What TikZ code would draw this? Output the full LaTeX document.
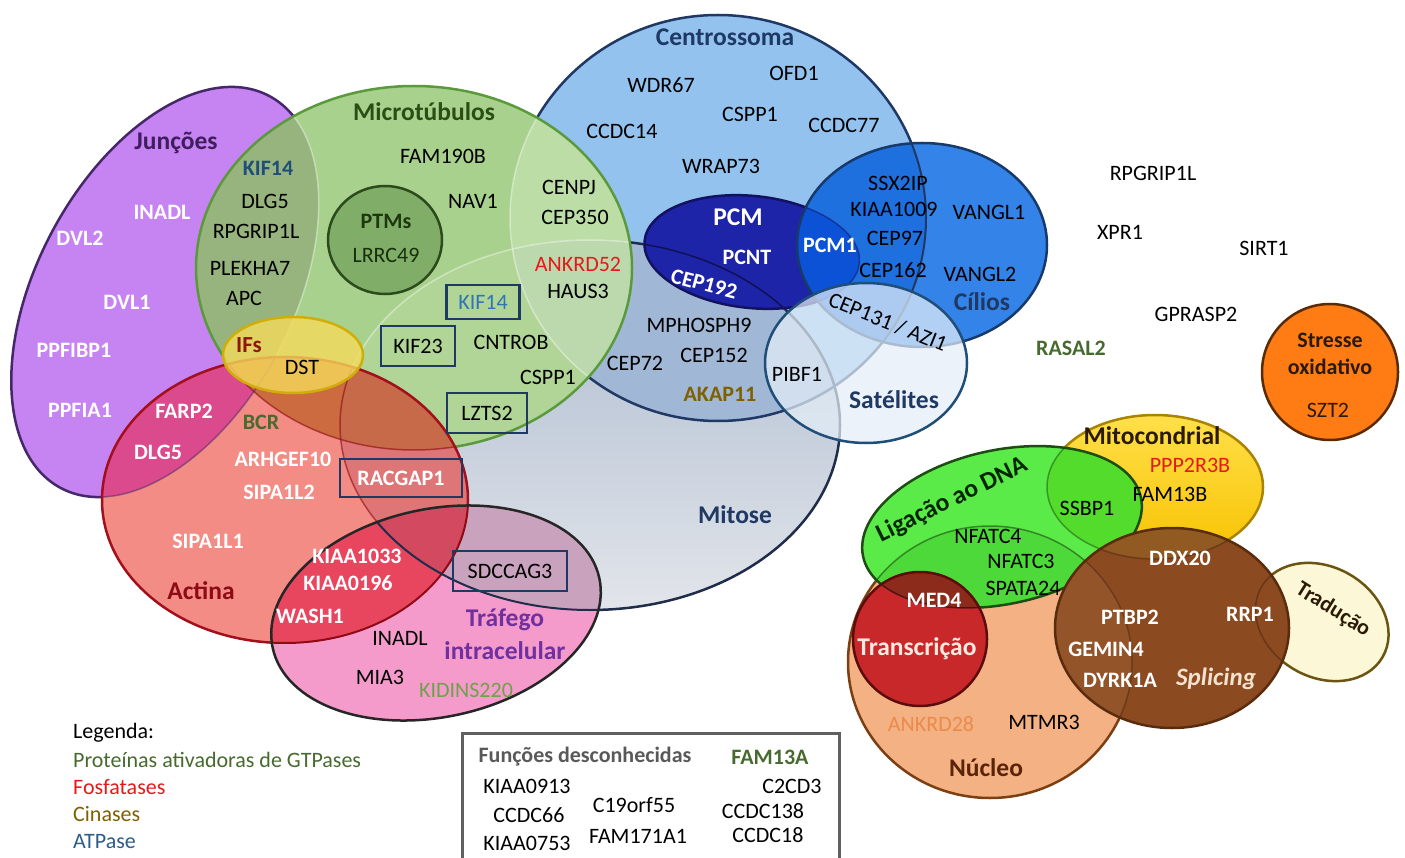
\documentclass[tikz,border=0pt]{standalone}
\usepackage{fontspec}
\setmainfont{Carlito}
\definecolor{mitT}{HTML}{A9B8CE}\definecolor{mitB}{HTML}{E2E5EA}\definecolor{mitE}{HTML}{1F2D4A}
\definecolor{cen}{HTML}{93C2EE}\definecolor{cenmit}{HTML}{A0B7D5}\definecolor{cenE}{HTML}{1F3864}
\definecolor{jun}{HTML}{C683F2}\definecolor{junE}{HTML}{45286A}
\definecolor{mic}{HTML}{A9D18E}\definecolor{micjun}{HTML}{97B47E}\definecolor{miccen}{HTML}{BCDDA6}
\definecolor{micmit}{HTML}{B0D597}\definecolor{micmitcen}{HTML}{BCD9AE}\definecolor{micE}{HTML}{5B9A3C}
\definecolor{act}{HTML}{F28C85}\definecolor{actjun}{HTML}{DA4A8C}\definecolor{actmit}{HTML}{DE7677}
\definecolor{actmic}{HTML}{CC6B3F}\definecolor{actmicmit}{HTML}{C66A4A}\definecolor{actE}{HTML}{A3101C}
\definecolor{tra}{HTML}{F59BCB}\definecolor{traact}{HTML}{E8455E}\definecolor{tramit}{HTML}{C9A2BE}
\definecolor{traactmit}{HTML}{D34A60}\definecolor{traE}{HTML}{262626}
\definecolor{ifs}{HTML}{F5DA5A}\definecolor{ifsE}{HTML}{CFAE0A}
\definecolor{ptm}{HTML}{80AE68}\definecolor{ptmE}{HTML}{2D4A1C}
\definecolor{pcm}{HTML}{1E24A8}\definecolor{pcmE}{HTML}{12125E}
\definecolor{cil}{HTML}{3383E8}\definecolor{cilcen}{HTML}{1F70DF}\definecolor{cilpcm}{HTML}{0B52D6}\definecolor{cilE}{HTML}{173A6A}
\definecolor{sat}{HTML}{E4EEF8}\definecolor{satE}{HTML}{1F4E79}
\definecolor{nuc}{HTML}{F4B183}\definecolor{nucE}{HTML}{7B3F12}
\definecolor{mtoT}{HTML}{FFE04A}\definecolor{mtoB}{HTML}{F7C200}\definecolor{mtoE}{HTML}{A88400}
\definecolor{lig}{HTML}{5BEB48}\definecolor{lignuc}{HTML}{4ED93A}\definecolor{ligmto}{HTML}{53DC2B}\definecolor{ligE}{HTML}{1D4D12}
\definecolor{trn}{HTML}{C9282B}\definecolor{trnlig}{HTML}{8C2A1C}\definecolor{trnE}{HTML}{5C0C0C}
\definecolor{trd}{HTML}{FCF7D6}\definecolor{trdE}{HTML}{6B5310}
\definecolor{spl}{HTML}{8B4A1F}\definecolor{splnuc}{HTML}{94542A}\definecolor{splmto}{HTML}{905A22}\definecolor{splE}{HTML}{5A2C0E}
\definecolor{strs}{HTML}{FF7B14}\definecolor{strsE}{HTML}{5A2A00}
\definecolor{navy}{HTML}{1F3864}\definecolor{junT}{HTML}{3F1E5E}\definecolor{micT}{HTML}{2A4E14}
\definecolor{actT}{HTML}{8E0A14}\definecolor{ifsT}{HTML}{8B1A0A}\definecolor{traT}{HTML}{7030A0}
\definecolor{gtp}{HTML}{476B2E}\definecolor{kid}{HTML}{6FA04C}\definecolor{fos}{HTML}{E41A1A}
\definecolor{kin}{HTML}{7F6000}\definecolor{atpB}{HTML}{1F4E79}\definecolor{atpL}{HTML}{2E75B6}
\definecolor{atpLeg}{HTML}{2E5C8A}\definecolor{nucT}{HTML}{5A2408}\definecolor{ankr}{HTML}{EB8B4B}
\definecolor{grayT}{HTML}{595959}\definecolor{boxE}{HTML}{606060}\definecolor{trnT}{HTML}{FDE9E0}
\definecolor{splT}{HTML}{F3E2D0}\definecolor{darkT}{HTML}{2B1A05}
% shapes: cx, cy, rx, ry, rotation
\def\eMit{{590}{425}{250}{185}{0}}
\def\eCen{{718}{218}{208}{203}{0}}
\def\eJun{{165}{292}{222}{128}{62}}
\def\eMic{{414}{268}{218}{182}{0}}
\def\eAct{{285}{500}{183}{143}{0}}
\def\eTra{{436}{613}{167}{104}{12}}
\def\eIFs{{293}{355}{70}{38}{0}}
\def\ePTM{{385}{240}{57}{54}{0}}
\def\ePCM{{752}{252}{108}{56}{-6}}
\def\eCil{{922}{245}{125}{102}{0}}
\def\eSat{{866}{363}{101}{80}{0}}
\def\eNuc{{990}{662}{142}{136}{0}}
\def\eLig{{1002}{527}{142}{77}{12}}
\def\eTrn{{920}{639}{67}{67}{0}}
\def\eMto{{1155}{487}{108}{72}{0}}
\def\eSpl{{1172}{628}{117}{100}{0}}
\def\eTrd{{1322}{622}{70}{55}{-30}}
\def\eStr{{1330}{372}{68}{68}{0}}
\newcommand\ELL[6]{\path[#6,rotate around={#5:(#1,#2)}] (#1,#2) ellipse [x radius=#3pt,y radius=#4pt];}
\newcommand\shp[2]{\expandafter\ELL#1{#2}}
\tikzset{
  txt/.style={font=\fontsize{22}{26}\selectfont, inner sep=0pt},
  txtb/.style={font=\bfseries\fontsize{22}{26}\selectfont, inner sep=0pt},
  lbl/.style={font=\bfseries\fontsize{25.5}{30}\selectfont, inner sep=0pt},
  boxn/.style={draw=navy, line width=2.5pt, inner sep=0pt, font=\fontsize{22}{26}\selectfont},
  edge/.style={line width=2.5pt},
  faint/.style={draw=white, draw opacity=.4, line width=1.5pt}
}
\begin{document}
\begin{tikzpicture}[x=1pt,y=-1pt]
\useasboundingbox (0,0) rectangle (1405,858);
\clip (0,0) rectangle (1405,858);
\fill[white] (0,0) rectangle (1405,858);
% ---------- left cluster ----------
\shp\eMit{top color=mitT,bottom color=mitB}
\shp\eCen{fill=cen}
\begin{scope}\shp\eCen{clip}\shp\eMit{fill=cenmit}\end{scope}
\shp\eMit{draw=mitE,edge}
\shp\eCen{draw=cenE,edge}
\shp\eJun{fill=jun}
\shp\eJun{draw=junE,edge}
\shp\eMic{fill=mic}
\begin{scope}\shp\eMic{clip}
 \shp\eJun{fill=micjun}
 \shp\eCen{fill=miccen}
 \shp\eMit{fill=micmit}
 \begin{scope}\shp\eCen{clip}\shp\eMit{fill=micmitcen}\end{scope}
 \shp\eJun{faint}
 \shp\eCen{faint}
 \shp\eMit{faint}
\end{scope}
\shp\eMic{draw=micE,edge}
\shp\eAct{fill=act}
\begin{scope}\shp\eAct{clip}
 \shp\eJun{fill=actjun}
 \shp\eMit{fill=actmit}
 \shp\eMic{fill=actmic}
 \begin{scope}\shp\eMic{clip}\shp\eMit{fill=actmicmit}\end{scope}
 \shp\eJun{draw=junE,draw opacity=.5,line width=1.5pt}
 \shp\eMic{draw=actT,draw opacity=.6,line width=1.5pt}
 \shp\eMit{draw=actT,draw opacity=.6,line width=1.5pt}
\end{scope}
\shp\eAct{draw=actE,edge}
\shp\eTra{fill=tra}
\begin{scope}\shp\eTra{clip}
 \shp\eAct{fill=traact}
 \shp\eMit{fill=tramit}
 \begin{scope}\shp\eAct{clip}\shp\eMit{fill=traactmit}\end{scope}
 \shp\eAct{draw=actT,line width=2pt}
 \shp\eMit{draw=mitE,line width=2pt}
\end{scope}
\shp\eTra{draw=traE,edge}
\shp\eIFs{fill=ifs,fill opacity=.8}
\shp\eIFs{draw=ifsE,edge}
\shp\ePTM{fill=ptm}
\shp\ePTM{draw=ptmE,edge}
\shp\ePCM{fill=pcm}
\begin{scope}\shp\ePCM{clip}\shp\eMit{draw=black,draw opacity=.5,line width=1.5pt}\end{scope}
\shp\ePCM{draw=pcmE,edge}
\shp\eCil{fill=cil}
\begin{scope}\shp\eCil{clip}
 \shp\eCen{fill=cilcen}
 \shp\ePCM{fill=cilpcm}
 \shp\eCen{draw=cenE,line width=2pt}
 \shp\ePCM{draw=pcmE,draw opacity=.5,line width=1.5pt}
\end{scope}
\shp\eCil{draw=cilE,edge}
\shp\eSat{fill=sat,fill opacity=.72}
\shp\eSat{draw=satE,edge}
% ---------- right cluster ----------
\shp\eNuc{fill=nuc}
\shp\eNuc{draw=nucE,edge}
\shp\eMto{top color=mtoT,bottom color=mtoB}
\shp\eMto{draw=mtoE,edge}
\shp\eLig{fill=lig}
\begin{scope}\shp\eLig{clip}
 \shp\eNuc{fill=lignuc}
 \shp\eMto{fill=ligmto}
 \shp\eNuc{draw=ligE,draw opacity=.6,line width=1.5pt}
 \shp\eMto{draw=ligE,draw opacity=.5,line width=1.5pt}
\end{scope}
\shp\eLig{draw=ligE,edge}
\shp\eTrn{fill=trn}
\begin{scope}\shp\eTrn{clip}
 \shp\eLig{fill=trnlig}
 \shp\eLig{draw=black,draw opacity=.5,line width=1.5pt}
\end{scope}
\shp\eTrn{draw=trnE,edge}
\shp\eTrd{fill=trd}
\shp\eTrd{draw=trdE,edge}
\shp\eSpl{fill=spl}
\begin{scope}\shp\eSpl{clip}
 \shp\eNuc{fill=splnuc}
 \shp\eMto{fill=splmto}
 \shp\eNuc{draw=black,draw opacity=.25,line width=1.5pt}
 \shp\eMto{draw=black,draw opacity=.25,line width=1.5pt}
 \shp\eTrd{draw=black,draw opacity=.25,line width=1.5pt}
\end{scope}
\shp\eSpl{draw=splE,edge}
\shp\eStr{fill=strs}
\shp\eStr{draw=strsE,edge}
% ---------- texts: Junções ----------
\node[lbl,text=junT] (lJun) at (176,143) {Junções};
\node[txtb,text=white] (jINADL) at (162,212) {INADL};
\node[txtb,text=white] (jDVL2) at (80,238) {DVL2};
\node[txtb,text=white] (jDVL1) at (127,302) {DVL1};
\node[txtb,text=white] (jPPFIBP1) at (74,350) {PPFIBP1};
\node[txtb,text=white] (jPPFIA1) at (80,410) {PPFIA1};
\node[txtb,text=atpB] (jmKIF14) at (268,168) {KIF14};
\node[txt] (jmDLG5) at (265,201) {DLG5};
\node[txt] (jmRPG) at (256,231) {RPGRIP1L};
\node[txt] (jmPLE) at (250,268) {PLEKHA7};
\node[txt] (jmAPC) at (244,298) {APC};
% Microtúbulos
\node[lbl,text=micT] (lMic) at (424,112) {Microtúbulos};
\node[txt] (mFAM) at (443,156) {FAM190B};
\node[txt] (mNAV) at (473,201) {NAV1};
\node[txtb,text=micT!70!black] (lPTM) at (386,221) {PTMs};
\node[txt,text=micT!60!black] (mLRR) at (386,255) {LRRC49};
\node[txt] (mCENPJ) at (569,187) {CENPJ};
\node[txt] (mCEP350) at (575,217) {CEP350};
\node[txt,text=fos] (mANK) at (578,264) {ANKRD52};
\node[txt] (mHAUS) at (578,291) {HAUS3};
\node[boxn,text=atpL,minimum width=73pt,minimum height=34pt] (bKIF14) at (483,302) {KIF14};
\node[boxn,minimum width=74pt,minimum height=40pt] (bKIF23) at (418,346) {KIF23};
\node[txt] (mCNT) at (511,342) {CNTROB};
\node[txt] (mCSPP) at (548,377) {CSPP1};
\node[boxn,minimum width=80pt,minimum height=40pt] (bLZTS2) at (487,413) {LZTS2};
% IFs
\node[txtb,text=ifsT,font=\bfseries\fontsize{23}{27}\selectfont] (lIFs) at (249,345) {IFs};
\node[txt] (iDST) at (302,367) {DST};
% Actina
\node[txtb,text=white] (aFARP2) at (184,411) {FARP2};
\node[txtb,text=white] (aDLG5) at (158,452) {DLG5};
\node[txtb,text=gtp] (aBCR) at (261,422) {BCR};
\node[txtb,text=white] (aARH) at (283,459) {ARHGEF10};
\node[txtb,text=white] (aS2) at (279,492) {SIPA1L2};
\node[txtb,text=white] (aS1) at (208,541) {SIPA1L1};
\node[lbl,text=actT] (lAct) at (201,591) {Actina};
\node[boxn,text=white,font=\bfseries\fontsize{22}{26}\selectfont,minimum width=122pt,minimum height=38pt] (bRAC) at (401,478) {RACGAP1};
\node[txtb,text=white] (aK1033) at (357,556) {KIAA1033};
\node[txtb,text=white] (aK0196) at (348,583) {KIAA0196};
\node[txtb,text=white] (aWASH) at (310,616) {WASH1};
% Tráfego
\node[boxn,minimum width=114pt,minimum height=40pt] (bSDC) at (510,571) {SDCCAG3};
\node[txt] (tINADL) at (400,638) {INADL};
\node[lbl,text=traT] (lTra1) at (505,620) {Tráfego};
\node[lbl,text=traT] (lTra2) at (505,651) {intracelular};
\node[txt] (tMIA3) at (380,677) {MIA3};
\node[txt,text=kid] (tKID) at (466,690) {KIDINS220};
% Centrossoma
\node[lbl,text=navy] (lCen) at (725,37) {Centrossoma};
\node[txt] (cWDR) at (661,85) {WDR67};
\node[txt] (cOFD) at (794,73) {OFD1};
\node[txt] (cCSPP) at (750,114) {CSPP1};
\node[txt] (cCC14) at (622,131) {CCDC14};
\node[txt] (cCC77) at (844,125) {CCDC77};
\node[txt] (cWRAP) at (721,166) {WRAP73};
\node[lbl,text=white] (lPCM) at (738,217) {PCM};
\node[txtb,text=white] (pPCNT) at (747,257) {PCNT};
\node[txtb,text=white,rotate=-15] (pCEP192) at (704,284) {CEP192};
\node[txtb,text=white] (pPCM1) at (830,245) {PCM1};
\node[txt] (ciSSX) at (898,183) {SSX2IP};
\node[txt] (ciKIAA) at (894,209) {KIAA1009};
\node[txt] (ciV1) at (989,212) {VANGL1};
\node[txt] (ciCEP97) at (895,238) {CEP97};
\node[txt] (ciCEP162) at (893,270) {CEP162};
\node[txt] (ciV2) at (980,274) {VANGL2};
\node[lbl,text=navy] (lCil) at (982,302) {Cílios};
\node[txt,rotate=-22] (sCEP131) at (888,322) {CEP131 / AZI1};
\node[txt] (xMPH) at (699,325) {MPHOSPH9};
\node[txt] (xCEP152) at (714,355) {CEP152};
\node[txt] (xCEP72) at (635,363) {CEP72};
\node[txtb,text=kin] (xAKAP) at (720,394) {AKAP11};
\node[txt] (sPIBF) at (797,374) {PIBF1};
\node[lbl,text=navy] (lSat) at (894,400) {Satélites};
\node[lbl,text=navy] (lMit) at (735,515) {Mitose};
% free genes
\node[txt] (fRPG) at (1153,173) {RPGRIP1L};
\node[txt] (fXPR) at (1120,232) {XPR1};
\node[txt] (fSIRT) at (1264,248) {SIRT1};
\node[txt] (fGPR) at (1196,314) {GPRASP2};
\node[txtb,text=gtp] (fRAS) at (1071,348) {RASAL2};
% Stresse
\node[txtb,text=darkT] (lStr1) at (1330,340) {Stresse};
\node[txtb,text=darkT] (lStr2) at (1330,367) {oxidativo};
\node[txt,text=darkT] (sSZT2) at (1328,410) {SZT2};
% Mitocondrial / DNA
\node[lbl,text=darkT] (lMto) at (1152,436) {Mitocondrial};
\node[txt,text=fos] (oPPP) at (1190,465) {PPP2R3B};
\node[txt] (oFAM) at (1170,494) {FAM13B};
\node[lbl,text=black!85!green,rotate=26] (lLig) at (952,500) {Ligação ao DNA};
\node[txt] (dSSBP) at (1087,508) {SSBP1};
\node[txt] (dNF4) at (988,536) {NFATC4};
\node[txt] (dNF3) at (1021,561) {NFATC3};
\node[txt] (dSPA) at (1023,588) {SPATA24};
\node[txtb,text=white] (dMED4) at (934,600) {MED4};
\node[lbl,text=trnT] (lTrn) at (917,649) {Transcrição};
\node[txt,text=ankr] (nANK) at (931,724) {ANKRD28};
\node[txt] (nMTM) at (1044,722) {MTMR3};
\node[lbl,text=nucT] (lNuc) at (986,768) {Núcleo};
\node[txtb,text=white] (sDDX) at (1180,558) {DDX20};
\node[txtb,text=white] (sPTB) at (1130,617) {PTBP2};
\node[txtb,text=white] (sRRP) at (1250,614) {RRP1};
\node[txtb,text=white] (sGEM) at (1106,649) {GEMIN4};
\node[txtb,text=white] (sDYR) at (1120,680) {DYRK1A};
\node[lbl,text=splT,font=\bfseries\itshape\fontsize{25}{30}\selectfont] (lSpl) at (1216,679) {Splicing};
\node[txtb,text=darkT,rotate=-32] (lTrd) at (1333,610) {Tradução};
% legend
\node[txt,anchor=west] (gL0) at (73,733) {Legenda:};
\node[txt,anchor=west,text=gtp] (gL1) at (73,760) {Proteínas ativadoras de GTPases};
\node[txt,anchor=west,text=fos] (gL2) at (73,787) {Fosfatases};
\node[txt,anchor=west,text=kin] (gL3) at (73,814) {Cinases};
\node[txt,anchor=west,text=atpLeg] (gL4) at (73,842) {ATPase};
% unknown-function box
\draw[draw=boxE,line width=3pt,fill=white] (462,733) rectangle (839,875);
\node[txtb,text=grayT] (uTitle) at (585,757) {Funções desconhecidas};
\node[txtb,text=gtp] (uFAM13A) at (770,757) {FAM13A};
\node[txt] (u1) at (527,786) {KIAA0913};
\node[txt] (u2) at (529,815) {CCDC66};
\node[txt] (u3) at (527,843) {KIAA0753};
\node[txt] (u4) at (634,805) {C19orf55};
\node[txt] (u5) at (638,836) {FAM171A1};
\node[txt] (u6) at (792,786) {C2CD3};
\node[txt] (u7) at (763,811) {CCDC138};
\node[txt] (u8) at (768,835) {CCDC18};
\end{tikzpicture}
\end{document}
